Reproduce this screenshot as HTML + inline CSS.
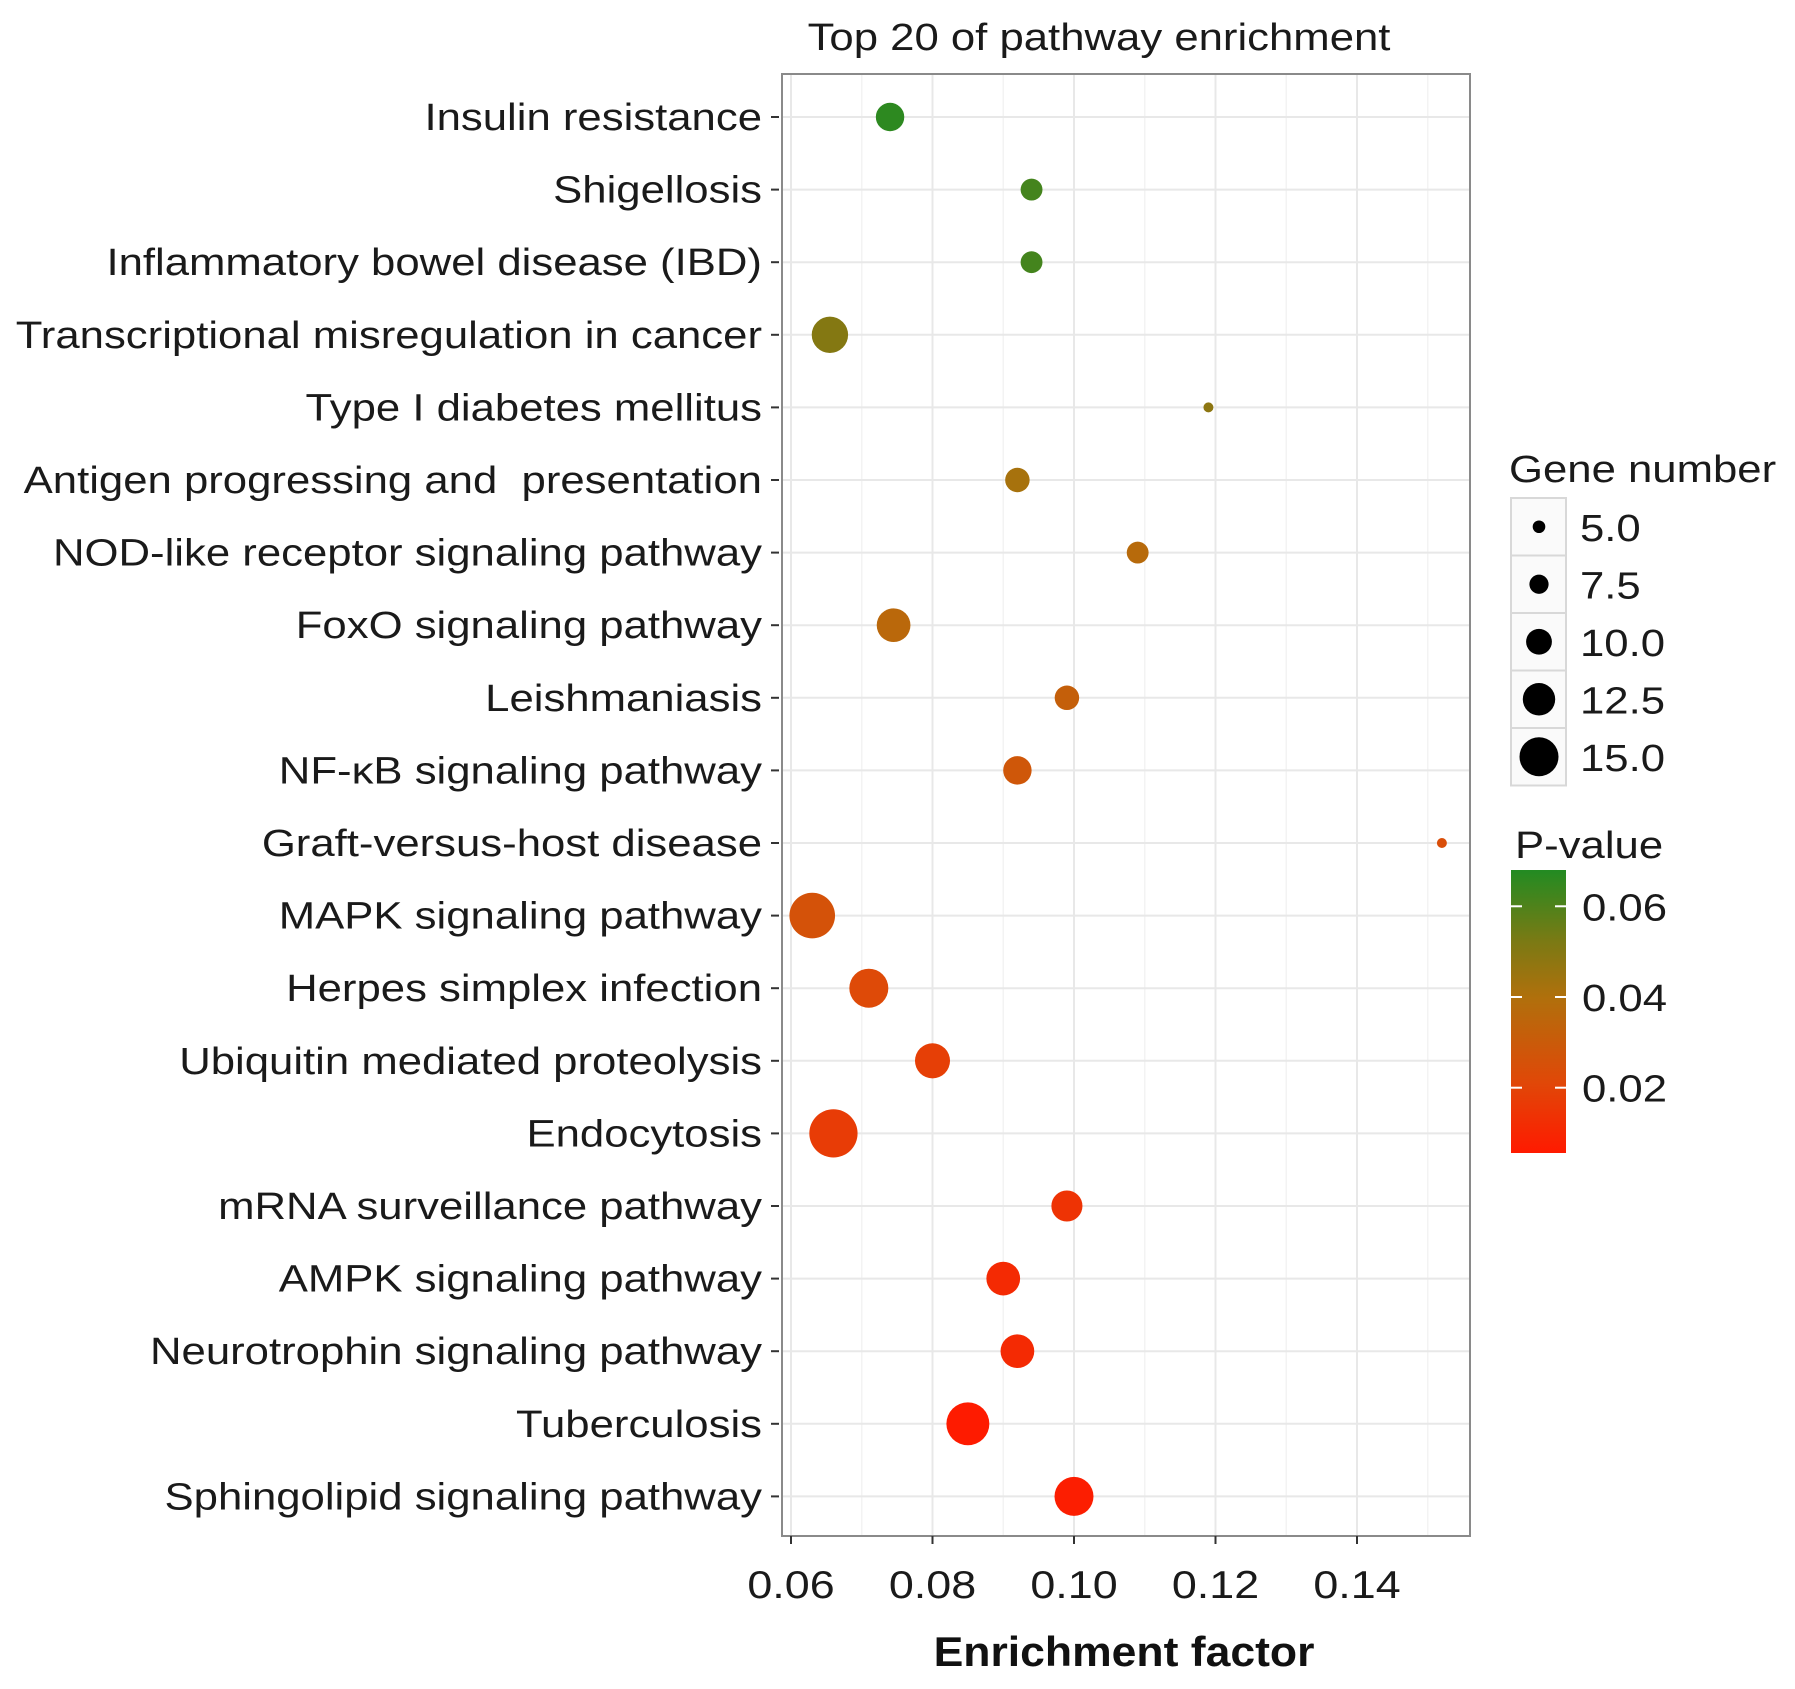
<!DOCTYPE html>
<html><head><meta charset="utf-8"><style>
body{margin:0;background:#fff;}
svg{display:block;font-family:"Liberation Sans",Arial,sans-serif;}
</style></head><body>
<svg id="c" width="1795" height="1689" viewBox="0 0 1795 1689">
<defs>
<linearGradient id="pg" x1="0" y1="1" x2="0" y2="0">
<stop offset="0" stop-color="#ff1a00"/>
<stop offset="0.25" stop-color="#e04808"/>
<stop offset="0.55" stop-color="#b0700c"/>
<stop offset="0.75" stop-color="#7a7a14"/>
<stop offset="1" stop-color="#228b22"/>
</linearGradient>
</defs>
</svg>
<script>
const categories=["Insulin resistance","Shigellosis","Inflammatory bowel disease (IBD)","Transcriptional misregulation in cancer","Type I diabetes mellitus","Antigen progressing and  presentation","NOD-like receptor signaling pathway","FoxO signaling pathway","Leishmaniasis","NF-κB signaling pathway","Graft-versus-host disease","MAPK signaling pathway","Herpes simplex infection","Ubiquitin mediated proteolysis","Endocytosis","mRNA surveillance pathway","AMPK signaling pathway","Neurotrophin signaling pathway","Tuberculosis","Sphingolipid signaling pathway"];
const enrichment=[0.074,0.094,0.094,0.0655,0.119,0.092,0.109,0.0745,0.099,0.092,0.152,0.063,0.071,0.080,0.066,0.099,0.090,0.092,0.085,0.100];
const geneNumber=[11,8.5,8.5,14,4,9.5,8.5,13,9.5,11,4,17.5,15,13.5,18.5,12,13,13,16.5,15];
const pValue=[0.066,0.062,0.062,0.05,0.048,0.042,0.037,0.036,0.032,0.028,0.024,0.026,0.022,0.018,0.017,0.014,0.011,0.011,0.006,0.007];
const xTicks=[0.06,0.08,0.10,0.12,0.14];
const sizeLegend=[5.0,7.5,10.0,12.5,15.0];
const pTicks=[0.06,0.04,0.02];

const NS="http://www.w3.org/2000/svg",svg=document.getElementById('c');
function el(t,a,txt){const e=document.createElementNS(NS,t);for(const k in a)e.setAttribute(k,a[k]);if(txt!=null)e.textContent=txt;svg.appendChild(e);return e;}
function tx(x,y,s,a,txt){a.x=0;a.y=0;a.transform='translate('+x+','+y+') scale('+s+',1)';if(a['xml:space']===undefined)a.style='white-space:pre';return el('text',a,txt);}
const PL=782,PR=1470,PT=74,PB=1536;
const xs=v=>791+(v-0.06)/0.02*141.5;
const ys=i=>117+i*72.6;
const rs=n=>1.32*n-0.3;
const PMIN=0.0056,PMAX=0.068,CBT=870,CBB=1153;
const pys=p=>CBB-(p-PMIN)/(PMAX-PMIN)*(CBB-CBT);
const stops=[[0,[255,26,0]],[0.25,[224,72,8]],[0.55,[176,112,12]],[0.75,[122,122,20]],[1,[34,139,34]]];
function pcol(p){let t=(p-PMIN)/(PMAX-PMIN);t=Math.max(0,Math.min(1,t));for(let i=1;i<stops.length;i++){if(t<=stops[i][0]){const a=stops[i-1],b=stops[i],f=(t-a[0])/(b[0]-a[0]);return 'rgb('+a[1].map((c,j)=>Math.round(c+(b[1][j]-c)*f)).join(',')+')';}}return 'rgb(34,139,34)';}
const S=1.15;
let e;
e=el('rect',{x:PL,y:PT,width:PR-PL,height:PB-PT,fill:'#fff'});

for(let i=0;i<xTicks.length;i++){const v=xTicks[i]+0.01;const x=xs(v);if(x<PR){e=el('line',{x1:x,x2:x,y1:PT,y2:PB,stroke:'#f3f3f3','stroke-width':1.5});}}
xTicks.forEach(v=>{e=el('line',{x1:xs(v),x2:xs(v),y1:PT,y2:PB,stroke:'#e8e8e8','stroke-width':2});});
categories.forEach((c,i)=>{e=el('line',{x1:PL,x2:PR,y1:ys(i),y2:ys(i),stroke:'#e8e8e8','stroke-width':2});});
e=el('rect',{x:PL,y:PT,width:PR-PL,height:PB-PT,fill:'none',stroke:'#8a8a8a','stroke-width':2});

categories.forEach((c,i)=>{
 e=el('line',{x1:771,x2:779,y1:ys(i),y2:ys(i),stroke:'#333','stroke-width':2});
 e=tx(762,ys(i)+13,S,{'text-anchor':'end','font-size':38,fill:'#1a1a1a'},c);
});
xTicks.forEach(v=>{
 e=el('line',{x1:xs(v),x2:xs(v),y1:PB,y2:PB+8,stroke:'#333','stroke-width':2});
 e=tx(xs(v),1598,S,{'text-anchor':'middle','font-size':39,fill:'#1a1a1a'},v.toFixed(2));
});
categories.forEach((c,i)=>{
 e=el('circle',{cx:xs(enrichment[i]),cy:ys(i),r:rs(geneNumber[i]),fill:pcol(pValue[i])});
 
});
e=tx(1099,50,S,{'text-anchor':'middle','font-size':38,fill:'#1a1a1a'},'Top 20 of pathway enrichment');

e=tx(1124,1666,1.06,{'text-anchor':'middle','font-size':42,'font-weight':'bold',fill:'#111'},'Enrichment factor');

e=tx(1509,482,S,{'font-size':38,fill:'#1a1a1a'},'Gene number');

const kh=57.5;
sizeLegend.forEach((n,i)=>{
 const y0=498+i*kh;
 e=el('rect',{x:1511,y:y0,width:55,height:kh,fill:'#fafafa',stroke:'#d8d8d8','stroke-width':2});
 e=el('circle',{cx:1539,cy:y0+kh/2,r:rs(n),fill:'#000'});
 e=tx(1580,y0+kh/2+14,S,{'font-size':38,fill:'#1a1a1a'},n.toFixed(1));
});
e=tx(1515,858,S,{'font-size':38,fill:'#1a1a1a'},'P-value');

e=el('rect',{x:1511,y:CBT,width:55,height:CBB-CBT,fill:'url(#pg)'});

pTicks.forEach(p=>{
 const y=pys(p);
 e=el('line',{x1:1511,x2:1522,y1:y,y2:y,stroke:'#fff','stroke-width':2});
 e=el('line',{x1:1555,x2:1566,y1:y,y2:y,stroke:'#fff','stroke-width':2});
 e=tx(1582,y+14,S,{'font-size':38,fill:'#1a1a1a'},p.toFixed(2));
});
</script>
</body></html>
